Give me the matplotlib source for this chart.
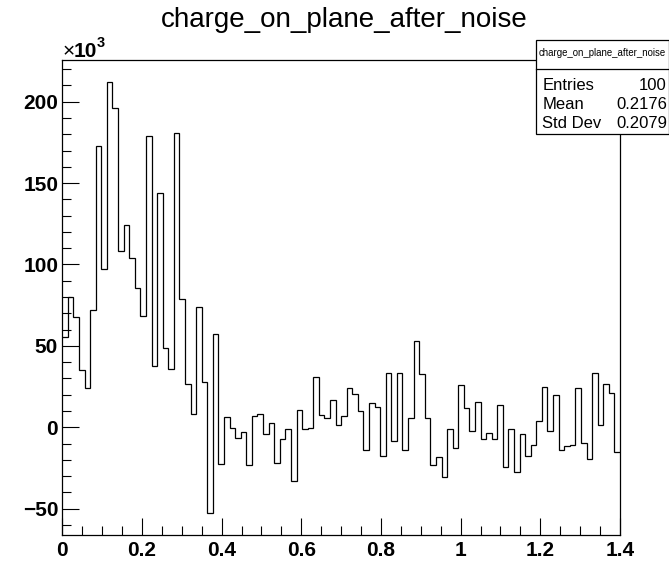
import matplotlib
matplotlib.use('Agg')
import matplotlib.pyplot as plt
import numpy as np
from matplotlib.ticker import MultipleLocator, FixedLocator
from matplotlib.patches import Rectangle
from matplotlib.lines import Line2D

# ---------------- data ----------------
title = "charge_on_plane_after_noise"
x_min, x_max, n_bins = 0.0, 1.4, 100
# bin contents in units of 10^3
counts_k = [
    55.7, 80.3, 68.0, 35.0, 24.0, 72.0, 173.0, 97.0, 212.0, 196.0,
    108.0, 124.0, 104.0, 85.5, 68.4, 179.0, 37.5, 144.0, 48.6, 36.0,
    181.0, 79.0, 26.4, 8.4, 74.0, 28.0, -52.9, 57.0, -22.8, 6.5,
    -0.6, -6.4, -2.7, -23.0, 7.2, 8.0, -4.1, 2.4, -22.0, -7.0,
    -1.2, -33.0, 10.4, -0.8, -0.2, 31.0, 7.4, 5.5, 16.8, 1.6,
    6.8, 23.8, 20.3, 10.0, -13.8, 14.8, 12.7, -17.6, 33.6, -8.4,
    33.2, -13.8, 5.5, 53.0, 32.8, 5.7, -23.2, -18.5, -30.4, -0.8,
    -12.5, 26.2, 12.0, -2.3, 15.6, -7.4, -3.3, -7.2, 13.9, -24.6,
    -0.8, -27.7, -4.1, -17.5, -10.9, 4.1, 25.0, -2.1, 20.0, -14.1,
    -11.3, -10.7, 24.0, -9.5, -19.5, 33.2, 1.4, 26.4, 21.3, -15.0,
]
stats_header = "charge_on_plane_after_noise"
stats_labels = ["Entries", "Mean", "Std Dev"]
stats_values = ["100", "0.2176", "0.2079"]
xtick_values = [0.0, 0.2, 0.4, 0.6, 0.8, 1.0, 1.2, 1.4]
xtick_labels = ["0", "0.2", "0.4", "0.6", "0.8", "1", "1.2", "1.4"]
ytick_values = [-50, 0, 50, 100, 150, 200]
ytick_labels = ["\u221250", "0", "50", "100", "150", "200"]
y_lo, y_hi = -66.2, 225.6

# ---------------- figure ----------------
plt.rcParams['font.family'] = ['Liberation Sans', 'DejaVu Sans']
W, H = 669, 561
fig = plt.figure(figsize=(W / 100, H / 100), dpi=100)
fig.patch.set_facecolor('white')

L, R, T, B = 62.3, 620.0, 60.0, 535.0
ax = fig.add_axes([L / W, 1 - B / H, (R - L) / W, (B - T) / H])

edges = np.linspace(x_min, x_max, n_bins + 1)
ax.stairs(counts_k, edges, baseline=None, color='black', lw=0.9)

ax.set_xlim(x_min, x_max)
ax.set_ylim(y_lo, y_hi)

ax.xaxis.set_major_locator(FixedLocator(xtick_values))
ax.set_xticklabels(xtick_labels)
ax.xaxis.set_minor_locator(MultipleLocator(0.05))
ax.yaxis.set_major_locator(FixedLocator(ytick_values))
ax.set_yticklabels(ytick_labels)
ax.yaxis.set_minor_locator(MultipleLocator(10))

ax.tick_params(which='both', direction='in', top=False, right=False, width=0.8, color='black')
ax.tick_params(which='major', length=12.3)
ax.tick_params(which='minor', length=6.3)
ax.tick_params(axis='x', which='major', pad=4.5, labelsize=15)
ax.tick_params(axis='y', which='major', pad=3.0, labelsize=15)
for lab in ax.get_xticklabels() + ax.get_yticklabels():
    lab.set_fontweight('bold')
for s in ax.spines.values():
    s.set_linewidth(0.9)
    s.set_color('black')

# title
fig.text(344 / W, 1 - 20 / H, title, ha='center', va='center', fontsize=20)

# x10^3 label
fig.text(62.5 / W, 1 - 57 / H, "\u00d7", ha='left', va='baseline', fontsize=15)
fig.text(74.0 / W, 1 - 57 / H, "10", ha='left', va='baseline', fontsize=15, fontweight='bold')
fig.text(97.0 / W, 1 - 47 / H, "3", ha='left', va='baseline', fontsize=10.5, fontweight='bold')

# stats box
bx0, bx1, by0, by1 = 536.0, 668.5, 39.5, 134.0
box = Rectangle((bx0 / W, 1 - by1 / H), (bx1 - bx0) / W, (by1 - by0) / H,
                transform=fig.transFigure, facecolor='white', edgecolor='black',
                lw=0.9, zorder=10)
fig.add_artist(box)
sep_y = 69.3
fig.add_artist(Line2D([bx0 / W, bx1 / W], [1 - sep_y / H, 1 - sep_y / H],
                      transform=fig.transFigure, color='black', lw=0.9, zorder=11))
fig.text((bx0 + bx1) / 2 / W, 1 - 53 / H, stats_header, ha='center', va='center',
         fontsize=6.9, zorder=12)
row_y = [85.0, 104.5, 124.0]
for lab, val, yy in zip(stats_labels, stats_values, row_y):
    fig.text(542.5 / W, 1 - yy / H, lab, ha='left', va='center', fontsize=12, zorder=12)
    fig.text(667.0 / W, 1 - yy / H, val, ha='right', va='center', fontsize=12, zorder=12)

fig.savefig('out.png', dpi=100)
